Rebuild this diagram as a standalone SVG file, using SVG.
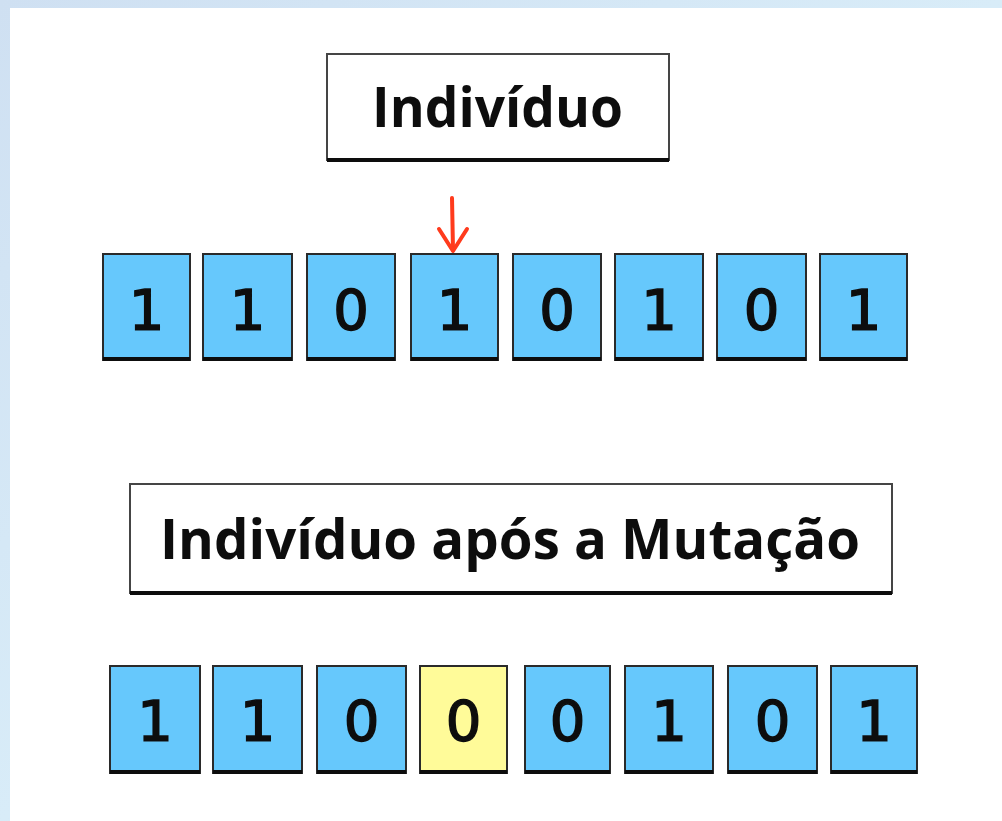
<svg xmlns="http://www.w3.org/2000/svg" width="1002" height="821" viewBox="0 0 1002 821">
  <defs>
    <linearGradient id="frame" x1="0" y1="0" x2="1" y2="1">
      <stop offset="0" stop-color="#cfe0f2"/>
      <stop offset="0.5" stop-color="#d8ecf8"/>
      <stop offset="1" stop-color="#c9d6e6"/>
    </linearGradient>
    <filter id="soft" x="-5%" y="-5%" width="110%" height="110%">
      <feGaussianBlur stdDeviation="0.6"/>
    </filter>
  </defs>
  <style>
    .title { fill: #ffffff; stroke: #444444; stroke-width: 2; }
    .shadow { stroke: #111111; stroke-width: 4; }
    .title-text { font-family: "Open Sans", "Liberation Sans", sans-serif; font-weight: 700; font-size: 55px; fill: #111111; }
    .gene { stroke: #2a2a2a; stroke-width: 2; }
    .blue { fill: #66c8fc; }
    .yellow { fill: #fffb99; }
    .bit { font-family: "DejaVu Sans", Verdana, sans-serif; font-weight: 400; font-size: 56px; fill: #111111; stroke: #111111; stroke-width: 1.6; text-anchor: middle; }
    .arrow { stroke: #ff3a1c; stroke-width: 4; fill: none; stroke-linecap: round; stroke-linejoin: round; }
  </style>

  <!-- page background and white slide area -->
  <rect x="0" y="0" width="1002" height="821" fill="url(#frame)"/>
  <rect x="10" y="8" width="992" height="813" fill="#ffffff"/>

  <g filter="url(#soft)">
    <!-- title: original individual -->
    <g id="title-individuo">
      <rect class="title" x="327" y="54" width="342" height="106"/>
      <line class="shadow" x1="327" y1="160" x2="669" y2="160"/>
      <text class="title-text" x="372" y="127" textLength="251" lengthAdjust="spacingAndGlyphs">Indivíduo</text>
    </g>

    <!-- chromosome before mutation -->
    <g id="gene-a1"><rect class="gene blue" x="103" y="254" width="87" height="106"/><line class="shadow" x1="103" y1="359" x2="190" y2="359"/><text class="bit" x="146.5" y="329">1</text></g>
    <g id="gene-a2"><rect class="gene blue" x="203" y="254" width="89" height="106"/><line class="shadow" x1="203" y1="359" x2="292" y2="359"/><text class="bit" x="247.5" y="329">1</text></g>
    <g id="gene-a3"><rect class="gene blue" x="307" y="254" width="88" height="106"/><line class="shadow" x1="307" y1="359" x2="395" y2="359"/><text class="bit" x="351" y="329">0</text></g>
    <g id="gene-a4"><rect class="gene blue" x="411" y="254" width="87" height="106"/><line class="shadow" x1="411" y1="359" x2="498" y2="359"/><text class="bit" x="454.5" y="329">1</text></g>
    <g id="gene-a5"><rect class="gene blue" x="513" y="254" width="88" height="106"/><line class="shadow" x1="513" y1="359" x2="601" y2="359"/><text class="bit" x="557" y="329">0</text></g>
    <g id="gene-a6"><rect class="gene blue" x="615" y="254" width="88" height="106"/><line class="shadow" x1="615" y1="359" x2="703" y2="359"/><text class="bit" x="659" y="329">1</text></g>
    <g id="gene-a7"><rect class="gene blue" x="717" y="254" width="89" height="106"/><line class="shadow" x1="717" y1="359" x2="806" y2="359"/><text class="bit" x="761.5" y="329">0</text></g>
    <g id="gene-a8"><rect class="gene blue" x="820" y="254" width="87" height="106"/><line class="shadow" x1="820" y1="359" x2="907" y2="359"/><text class="bit" x="863.5" y="329">1</text></g>

    <!-- title: individual after mutation -->
    <g id="title-mutacao">
      <rect class="title" x="130" y="484" width="762" height="109"/>
      <line class="shadow" x1="130" y1="593" x2="892" y2="593"/>
      <text class="title-text" x="160" y="559" textLength="700" lengthAdjust="spacingAndGlyphs">Indivíduo após a Mutação</text>
    </g>

    <!-- chromosome after mutation -->
    <g id="gene-b1"><rect class="gene blue" x="110" y="666" width="90" height="107"/><line class="shadow" x1="110" y1="772" x2="200" y2="772"/><text class="bit" x="155" y="740">1</text></g>
    <g id="gene-b2"><rect class="gene blue" x="213" y="666" width="89" height="107"/><line class="shadow" x1="213" y1="772" x2="302" y2="772"/><text class="bit" x="257.5" y="740">1</text></g>
    <g id="gene-b3"><rect class="gene blue" x="317" y="666" width="89" height="107"/><line class="shadow" x1="317" y1="772" x2="406" y2="772"/><text class="bit" x="361.5" y="740">0</text></g>
    <g id="gene-b4"><rect class="gene yellow" x="420" y="666" width="87" height="107"/><line class="shadow" x1="420" y1="772" x2="507" y2="772"/><text class="bit" x="463.5" y="740">0</text></g>
    <g id="gene-b5"><rect class="gene blue" x="525" y="666" width="85" height="107"/><line class="shadow" x1="525" y1="772" x2="610" y2="772"/><text class="bit" x="567.5" y="740">0</text></g>
    <g id="gene-b6"><rect class="gene blue" x="625" y="666" width="88" height="107"/><line class="shadow" x1="625" y1="772" x2="713" y2="772"/><text class="bit" x="669" y="740">1</text></g>
    <g id="gene-b7"><rect class="gene blue" x="728" y="666" width="89" height="107"/><line class="shadow" x1="728" y1="772" x2="817" y2="772"/><text class="bit" x="772.5" y="740">0</text></g>
    <g id="gene-b8"><rect class="gene blue" x="831" y="666" width="86" height="107"/><line class="shadow" x1="831" y1="772" x2="917" y2="772"/><text class="bit" x="874" y="740">1</text></g>

    <!-- mutation point marker -->
    <g id="connectors">
      <path class="arrow" d="M452 198 L453 250"/>
      <path class="arrow" d="M439 229 L453 251 L467 229"/>
    </g>
  </g>
</svg>
